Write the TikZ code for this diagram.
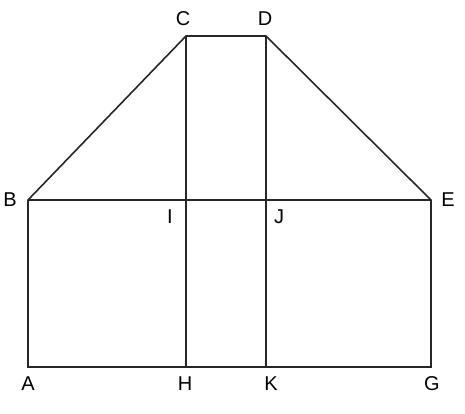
\documentclass[tikz,border=0pt]{standalone}
\usepackage{fontspec}
\setmainfont{Liberation Sans}
\begin{document}
\begin{tikzpicture}[x=1pt,y=-1pt]

        \useasboundingbox (0,0) rectangle (465,413);

        \coordinate (A) at (28,367);
        \coordinate (H) at (186,367);
        \coordinate (K) at (266,367);
        \coordinate (G) at (431,367);
        \coordinate (B) at (28,200);
        \coordinate (I) at (186,200);
        \coordinate (J) at (266,200);
        \coordinate (E) at (431,200);
        \coordinate (C) at (186,36);
        \coordinate (D) at (266,36);

        \begin{scope}[every node/.style={inner sep=0pt, font=\fontsize{20}{22}\selectfont}]
          \node (lC) at (183,19)  {C};
          \node (lD) at (265,19)  {D};
          \node (lB) at (10,200)  {B};
          \node (lE) at (448,200) {E};
          \node (lI) at (170,217) {I};
          \node (lJ) at (279,217) {J};
          \node (lA) at (28,384)  {A};
          \node (lH) at (185,384) {H};
          \node (lK) at (271,384) {K};
          \node (lG) at (432,384) {G};
        \end{scope}

        \begin{scope}[line width=1.6pt, draw=black!85]
          \draw (A) -- (B) -- (C) -- (D) -- (E) -- (G) -- cycle;
          \draw (B) -- (I) -- (J) -- (E);
          \draw (C) -- (I) -- (H);
          \draw (D) -- (J) -- (K);
        \end{scope}

      \end{tikzpicture}
\end{document}
